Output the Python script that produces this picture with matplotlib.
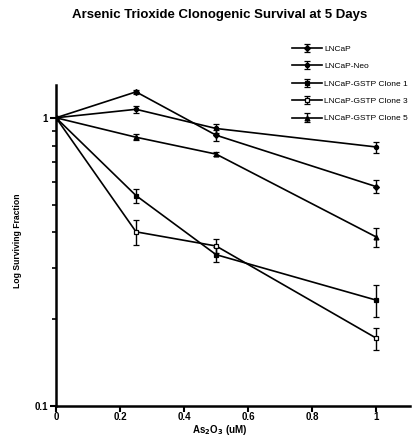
import matplotlib
matplotlib.use('Agg')
import matplotlib.pyplot as plt
from matplotlib.ticker import FixedLocator, NullFormatter

plt.rcParams['font.family'] = ['Liberation Sans', 'DejaVu Sans']
plt.rcParams['font.weight'] = 'bold'
plt.rcParams['mathtext.default'] = 'bf'

# Data
dose = [0, 0.25, 0.5, 1]
series_names = ['LNCaP', 'LNCaP-Neo', 'LNCaP-GSTP Clone 1',
                'LNCaP-GSTP Clone 3', 'LNCaP-GSTP Clone 5']
lncap = [1, 1.23, 0.87, 0.577]
lncap_err = [0, 0.02, 0.04, 0.03]
neo = [1, 1.07, 0.918, 0.792]
neo_err = [0, 0.03, 0.03, 0.035]
clone1 = [1, 0.537, 0.335, 0.233]
clone1_err = [0, 0.03, 0.02, 0.03]
clone3 = [1, 0.402, 0.359, 0.172]
clone3_err = [0, 0.04, 0.02, 0.015]
clone5 = [1, 0.856, 0.748, 0.386]
clone5_err = [0, 0.02, 0.01, 0.03]

x_ticks = [0, 0.2, 0.4, 0.6, 0.8, 1]
x_tick_labels = ['0', '0.2', '0.4', '0.6', '0.8', '1']

values = [lncap, neo, clone1, clone3, clone5]
errors = [lncap_err, neo_err, clone1_err, clone3_err, clone5_err]
markers = ['D', 'o', 's', 's', '^']
faces = ['black', 'black', 'black', 'white', 'black']
msizes = [3, 3, 3.5, 3.5, 3.5]

fig = plt.figure(figsize=(4.19, 4.38), dpi=100)
ax = fig.add_axes([0.1337, 0.0731, 0.845, 0.733])

handles = []
for vals, errs, m, fc, ms, name in zip(values, errors, markers, faces, msizes, series_names):
    h = ax.errorbar(dose, vals, yerr=errs, color='black', lw=1.2, marker=m,
                    markersize=ms, markerfacecolor=fc, markeredgecolor='black',
                    markeredgewidth=0.9, ecolor='black', elinewidth=1.0,
                    capsize=2, capthick=1.0, label=name)
    handles.append(h)

ax.set_yscale('log')
ax.set_ylim(0.1, 1.3)
ax.set_xlim(0, 1.106)

ax.xaxis.set_major_locator(FixedLocator(x_ticks))
ax.set_xticklabels(x_tick_labels)
ax.yaxis.set_major_locator(FixedLocator([0.1, 1]))
ax.set_yticklabels(['0.1', '1'])
ax.yaxis.set_minor_locator(FixedLocator([0.2, 0.3, 0.4, 0.5, 0.6, 0.7, 0.8, 0.9]))
ax.yaxis.set_minor_formatter(NullFormatter())

for side in ['top', 'right']:
    ax.spines[side].set_visible(False)
for side in ['left', 'bottom']:
    ax.spines[side].set_linewidth(1.8)

ax.tick_params(axis='both', which='major', direction='out', length=4, width=1.5,
               labelsize=7, pad=2)
ax.tick_params(axis='x', which='major', pad=0.5)
ax.tick_params(axis='y', which='minor', direction='out', length=3, width=1.2)

# axis titles placed in figure coords to match the reference
fig.text(0.525, 0.019, 'As$_2$O$_3$ (uM)', ha='center', va='center',
         fontsize=7, fontweight='bold')
fig.text(0.042, 0.45, 'Log Surviving Fraction', ha='center', va='center',
         rotation=90, fontsize=6.2, fontweight='bold')
fig.text(0.525, 0.965, 'Arsenic Trioxide Clonogenic Survival at 5 Days',
         ha='center', va='center', fontsize=9.5, fontweight='bold')

leg = ax.legend(handles=handles, loc='upper left', bbox_to_anchor=(0.688, 0.905),
                bbox_transform=fig.transFigure, frameon=False, fontsize=6.0,
                handlelength=3.6, handletextpad=0.3, labelspacing=1.15,
                borderaxespad=0)
for t in leg.get_texts():
    t.set_fontweight('normal')

fig.savefig('out.png', dpi=100)
